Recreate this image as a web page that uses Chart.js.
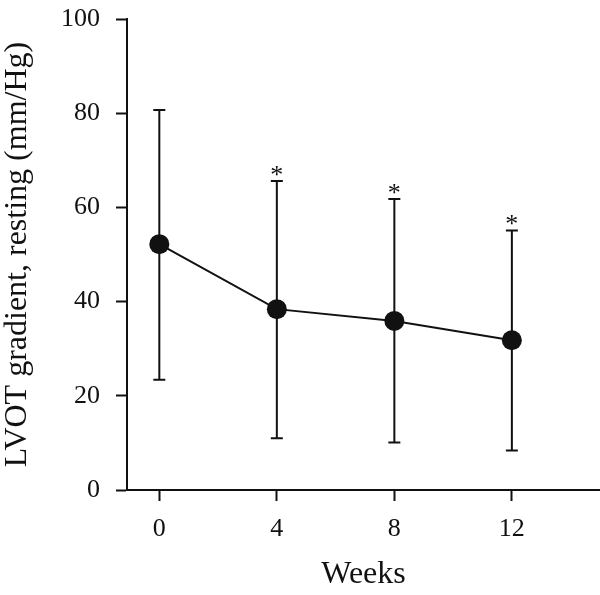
<!DOCTYPE html>
<html>
<head>
<meta charset="utf-8">
<script src="https://cdn.jsdelivr.net/npm/chart.js@4/dist/chart.umd.min.js"></script>
<style>
  html, body { margin: 0; padding: 0; background: #fff; }
  #wrap { width: 600px; height: 595px; }
</style>
</head>
<body>
<div id="wrap"><canvas id="lvotChart" width="600" height="595"></canvas></div>
<script>
// Data
const weeks = [0, 4, 8, 12];
const meanGradient = [52.2, 38.4, 35.9, 31.8];
const upperSD = [80.7, 65.6, 61.8, 55.1];
const lowerSD = [23.4, 11.0, 10.1, 8.4];
const significance = ['', '*', '*', '*'];
const xTicks = [0, 4, 8, 12];
const yTicks = [0, 20, 40, 60, 80, 100];

const serif = "'Liberation Serif', 'DejaVu Serif', serif";

// Draws the SD whiskers and significance marks using the chart's scales
const errorBars = {
    id: 'errorBars',
    beforeDatasetsDraw(chart) {
        const { ctx, scales: { x, y } } = chart;
        const capHalf = 6;
        ctx.save();
        ctx.strokeStyle = '#111';
        ctx.lineWidth = 2;
        weeks.forEach((w, i) => {
            const px = x.getPixelForValue(w);
            const top = y.getPixelForValue(upperSD[i]);
            const bot = y.getPixelForValue(lowerSD[i]);
            ctx.beginPath();
            ctx.moveTo(px, top);
            ctx.lineTo(px, bot);
            ctx.moveTo(px - capHalf, top);
            ctx.lineTo(px + capHalf, top);
            ctx.moveTo(px - capHalf, bot);
            ctx.lineTo(px + capHalf, bot);
            ctx.stroke();

            if (significance[i]) {
                ctx.fillStyle = '#111';
                ctx.font = '26px ' + serif;
                ctx.textAlign = 'center';
                ctx.textBaseline = 'alphabetic';
                ctx.fillText(significance[i], px, top + 2);
            }
        });
        ctx.restore();
    }
};

const ctx = document.getElementById('lvotChart').getContext('2d');
const lvotChart = new Chart(ctx, {
    type: 'line',
    data: {
        datasets: [{
            label: 'LVOT gradient',
            data: weeks.map((w, i) => ({ x: w, y: meanGradient[i] })),
            borderColor: '#111',
            backgroundColor: '#111',
            borderWidth: 2,
            pointRadius: 10,
            pointHoverRadius: 10,
            pointBackgroundColor: '#111',
            pointBorderWidth: 0,
            tension: 0,
            fill: false
        }]
    },
    options: {
        responsive: false,
        animation: false,
        layout: { autoPadding: false, padding: { left: 0, right: 0, top: 19, bottom: 3 } },
        plugins: {
            legend: { display: false },
            tooltip: { enabled: false }
        },
        scales: {
            x: {
                type: 'linear',
                min: -1.1,
                max: 15,
                afterBuildTicks: (scale) => {
                    scale.ticks = xTicks.map(v => ({ value: v }));
                },
                afterFit: (scale) => {
                    scale.height = 102;
                    scale.paddingLeft = 0;
                    scale.paddingRight = 0;
                },
                grid: {
                    drawOnChartArea: false,
                    drawTicks: true,
                    tickLength: 11,
                    tickWidth: 2,
                    color: '#111'
                },
                border: { display: true, color: '#111', width: 2 },
                ticks: {
                    color: '#111',
                    padding: 13,
                    font: { family: serif, size: 26 }
                },
                title: {
                    display: true,
                    text: 'Weeks',
                    color: '#111',
                    padding: { top: 0, bottom: 0 },
                    font: { family: serif, size: 32, lineHeight: 1.1 }
                }
            },
            y: {
                min: 0,
                max: 100,
                afterBuildTicks: (scale) => {
                    scale.ticks = yTicks.map(v => ({ value: v }));
                },
                afterFit: (scale) => {
                    scale.width = 127;
                    scale.paddingTop = 0;
                    scale.paddingBottom = 0;
                },
                grid: {
                    drawOnChartArea: false,
                    drawTicks: true,
                    tickLength: 11,
                    tickWidth: 2,
                    color: '#111'
                },
                border: { display: true, color: '#111', width: 2 },
                ticks: {
                    color: '#111',
                    padding: 16,
                    font: { family: serif, size: 26 }
                },
                title: {
                    display: true,
                    text: 'LVOT gradient, resting (mm/Hg)',
                    color: '#111',
                    padding: { top: 0, bottom: 0 },
                    font: { family: serif, size: 32, lineHeight: 1.1 }
                }
            }
        }
    },
    plugins: [errorBars]
});
</script>
</body>
</html>
